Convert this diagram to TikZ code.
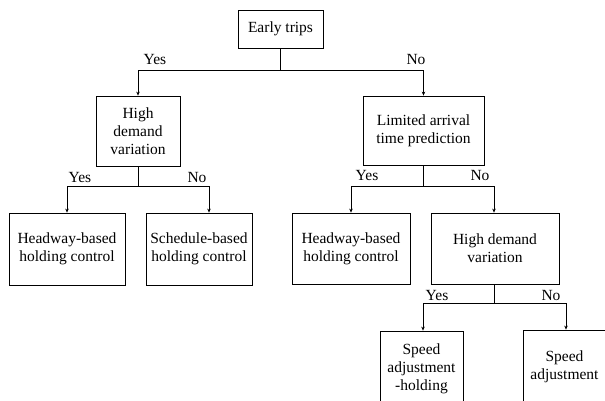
\documentclass[tikz,border=0pt]{standalone}
\usepackage{fontspec}
\setmainfont{Liberation Serif}
\usetikzlibrary{arrows.meta}
\begin{document}
\begin{tikzpicture}[x=1pt,y=-1pt,
  box/.style={draw, line width=0.8pt, inner sep=0pt, align=center,
    font=\fontsize{15.5}{18}\selectfont},
  conn/.style={line width=0.6pt},
  arr/.style={conn, -{Stealth[length=4pt,width=3.5pt]}},
  lbl/.style={font=\fontsize{15.5}{18}\selectfont, inner sep=0pt}]
\useasboundingbox (0,0) rectangle (605,401);
\clip (0,0) rectangle (605,401);
\node[box, minimum width=85pt, minimum height=38pt] (et) at (280.5,29) {Early trips};
\node[box, minimum width=84pt, minimum height=70pt] (hdvl) at (138,131) {High\\demand\\variation};
\node[box, minimum width=121pt, minimum height=69pt] (lim) at (423.5,130.5) {Limited arrival\\time prediction};
\node[box, minimum width=116pt, minimum height=72pt] (hbl) at (67,249) {Headway-based\\holding control};
\node[box, minimum width=106pt, minimum height=72pt] (sb) at (199,249) {Schedule-based\\holding control};
\node[box, minimum width=118pt, minimum height=71pt] (hbr) at (351,248.5) {Headway-based\\holding control};
\node[box, minimum width=128pt, minimum height=71pt] (hdvr) at (495,248.5) {High demand\\variation};
\node[box, minimum width=83pt, minimum height=76pt] (sah) at (421.5,369) {Speed\\adjustment\\-holding};
\node[box, minimum width=83pt, minimum height=74pt] (sa) at (564.5,367) {Speed\\adjustment};

\draw[conn] (et.south) -- ++(0,22) coordinate (j1);
\draw[arr] (j1) -| (hdvl.north);
\draw[arr] (j1) -| (lim.north);
\node[lbl] (y1) at (155,60) {Yes};
\node[lbl] (n1) at (416,60) {No};

\draw[conn] (hdvl.south) -- ++(0,20) coordinate (j2);
\draw[arr] (j2) -| (hbl.north);
\draw[arr] (j2) -| ([xshift=10pt]sb.north);
\node[lbl] (y2) at (80,178) {Yes};
\node[lbl] (n2) at (197,178) {No};

\draw[conn] (lim.south) -- ++(0,21) coordinate (j3);
\draw[arr] (j3) -| (hbr.north);
\draw[arr] (j3) -| ([xshift=-1pt]hdvr.north);
\node[lbl] (y3) at (367,176) {Yes};
\node[lbl] (n3) at (480,176) {No};

\draw[conn] ([xshift=-1pt]hdvr.south) -- ++(0,19) coordinate (j4);
\draw[arr] (j4) -| ([xshift=1.5pt]sah.north);
\draw[arr] (j4) -| ([xshift=1.5pt]sa.north);
\node[lbl] (y4) at (437,295) {Yes};
\node[lbl] (n4) at (551,295) {No};
\end{tikzpicture}
\end{document}
